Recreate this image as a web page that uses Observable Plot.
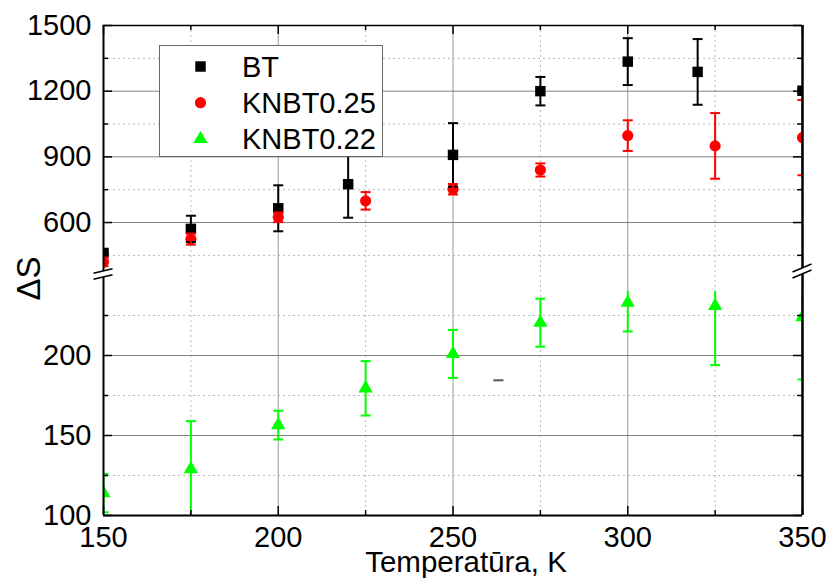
<!DOCTYPE html>
<html><head><meta charset="utf-8">
<script src="https://cdn.jsdelivr.net/npm/d3@7"></script>
<script src="https://cdn.jsdelivr.net/npm/@observablehq/plot@0.6"></script>
<style>body{margin:0;background:#fff;font-family:"Liberation Sans",Arial,sans-serif}</style>
</head><body><div id="wrap" style="position:relative;width:832px;height:579px"></div>
<script>
// ---- data ----
const seriesNames = ["BT", "KNBT0.25", "KNBT0.22"];
const btTemp   = [150, 175, 200, 220, 250, 275, 300, 320, 350];
const btVal    = [461, 571, 665, 775, 909, 1200, 1335, 1288, 1202];
const btErr    = [5, 60, 105, 153, 145, 65, 107, 150, 10];
const redTemp  = [150, 175, 200, 225, 250, 275, 300, 325, 350];
const redVal   = [420, 524, 624, 699, 752, 840, 997, 950, 988];
const redErr   = [20, 25, 22, 40, 24, 30, 70, 150, 172];
const grnTemp  = [150, 175, 200, 225, 250, 275, 300, 325, 350];
const grnVal   = [114, 129, 156.5, 179.5, 201, 220.5, 233, 231, 224];
const grnErr   = [12, 30, 9, 17, 15, 15, 18, 37, 39];
const strayTemp = [263];
const strayVal  = [184.5];

const xLabelTicks = [150, 200, 250, 300, 350];
const xMinorTicks = [175, 225, 275, 325];
const xMajorGrid = [200, 250, 300];
const yLabelTicks = [100, 150, 200, 600, 900, 1200, 1500];
const yMinorTicks = [125, 175, 225, 450, 750, 1050, 1350];
const yMajorGrid = [150, 200, 600, 900, 1200];
const lowSeg = [100, 240];
const highSeg = [390, 1500];

// ---- layout ----
const W = 832, H = 579, mL = 103, mR = 30, mT = 25, mB = 64;
const fW = W - mL - mR, fH = H - mT - mB;
const font = "Liberation Sans, Arial, sans-serif";

function segOf(v) { return v <= lowSeg[1] ? lowSeg : highSeg; }
function rows(temps, vals, errs) {
  return temps.map((t, i) => {
    const seg = segOf(vals[i]);
    const lo = vals[i] - errs[i], hi = vals[i] + errs[i];
    return {
      t, v: vals[i],
      lo: Math.max(seg[0], lo), hi: Math.min(seg[1], hi),
      loCap: lo >= seg[0], hiCap: hi <= seg[1]
    };
  });
}
const series = [
  {name: seriesNames[0], data: rows(btTemp, btVal, btErr), color: "#000000", symbol: "square", r: 5.9},
  {name: seriesNames[1], data: rows(redTemp, redVal, redErr), color: "#ff0000", symbol: "circle", r: 5.6},
  {name: seriesNames[2], data: rows(grnTemp, grnVal, grnErr), color: "#00ff00", symbol: "triangle", r: 5.3}
];

const capSymbol = {
  draw(context, size) {
    const w = Math.sqrt(size / Math.PI);
    context.moveTo(-w, 0);
    context.lineTo(w, 0);
  }
};

function breakMarks(index, scales) {
  const sx = scales.x, sy = scales.y;
  const g = d3.create("svg:g");
  const gapTop = sy(highSeg[0]);
  const spots = [
    {x: sx(150), yc: gapTop + 6, s: 2.2},
    {x: sx(350), yc: gapTop + 3, s: 4}
  ];
  for (const p of spots) {
    const a = [p.x - 9.5, p.yc - 3 + p.s], b = [p.x + 9.5, p.yc - 3 - p.s];
    const c = [p.x + 9.5, p.yc + 3 - p.s], d = [p.x - 9.5, p.yc + 3 + p.s];
    g.append("path").attr("d", `M${a}L${b}L${c}L${d}Z`).attr("fill", "white");
    g.append("line").attr("x1", a[0]).attr("y1", a[1]).attr("x2", b[0]).attr("y2", b[1])
      .attr("stroke", "black").attr("stroke-width", 1.6);
    g.append("line").attr("x1", d[0]).attr("y1", d[1]).attr("x2", c[0]).attr("y2", c[1])
      .attr("stroke", "black").attr("stroke-width", 1.6);
  }
  return g.node();
}

const marks = [
  // grid
  Plot.ruleX(xMinorTicks, {stroke: "#b8b8b8", strokeDasharray: "2,3", strokeWidth: 1}),
  Plot.ruleY(yMinorTicks, {stroke: "#b8b8b8", strokeDasharray: "2,3", strokeWidth: 1}),
  Plot.ruleX(xMajorGrid, {stroke: "#999999", strokeWidth: 1}),
  Plot.ruleY(yMajorGrid, {stroke: "#808080", strokeWidth: 1}),
];
// markers
for (const s of series) {
  marks.push(Plot.dot(s.data, {x: "t", y: "v", symbol: s.symbol, r: s.r, fill: s.color, stroke: "none", clip: true}));
}
// error bars
for (const s of series) {
  marks.push(Plot.ruleX(s.data, {x: "t", y1: "lo", y2: "hi", stroke: s.color, strokeWidth: 2, clip: true}));
  marks.push(Plot.dot(s.data.filter(d => d.hiCap), {x: "t", y: "hi", symbol: capSymbol, r: 5, fill: "none", stroke: s.color, strokeWidth: 2, clip: true}));
  marks.push(Plot.dot(s.data.filter(d => d.loCap), {x: "t", y: "lo", symbol: capSymbol, r: 5, fill: "none", stroke: s.color, strokeWidth: 2, clip: true}));
}
marks.push(Plot.dot(strayTemp.map((t, i) => ({t, v: strayVal[i]})), {x: "t", y: "v", symbol: capSymbol, r: 5, fill: "none", stroke: "#555", strokeWidth: 2}));
// inward ticks
const majL = 9, minL = 5;
marks.push(
  Plot.ruleX(xLabelTicks, {insetTop: fH - majL, stroke: "black", strokeWidth: 1.5}),
  Plot.ruleX(xMinorTicks, {insetTop: fH - minL, stroke: "black", strokeWidth: 1.5}),
  Plot.ruleX(xLabelTicks, {insetBottom: fH - majL, stroke: "black", strokeWidth: 1.5}),
  Plot.ruleX(xMinorTicks, {insetBottom: fH - minL, stroke: "black", strokeWidth: 1.5}),
  Plot.ruleY(yLabelTicks, {insetRight: fW - majL, stroke: "black", strokeWidth: 1.5}),
  Plot.ruleY(yMinorTicks, {insetRight: fW - minL, stroke: "black", strokeWidth: 1.5}),
  Plot.ruleY(yLabelTicks, {insetLeft: fW - majL, stroke: "black", strokeWidth: 1.5}),
  Plot.ruleY(yMinorTicks, {insetLeft: fW - minL, stroke: "black", strokeWidth: 1.5}),
  // frame
  Plot.ruleY([highSeg[1]], {stroke: "black", strokeWidth: 1.5}),
  Plot.ruleY([lowSeg[0]], {stroke: "black", strokeWidth: 2}),
  Plot.ruleX([150], {stroke: "black", strokeWidth: 2}),
  Plot.ruleX([350], {stroke: "black", strokeWidth: 2.5}),
  breakMarks,
  // axes labels
  Plot.axisX(xLabelTicks, {tickSize: 0, tickPadding: 11, label: null, fontSize: 29, tickFormat: d => String(d)}),
  Plot.axisY(yLabelTicks, {tickSize: 0, tickPadding: 12, label: null, fontSize: 29, tickFormat: d => String(d)}),
  Plot.text(["Temperatūra, K"], {text: d => d, frameAnchor: "bottom", dx: 13, dy: 56.5, fontSize: 29.5}),
  Plot.text(["ΔS"], {text: d => d, frameAnchor: "left", rotate: -90, dx: -74, dy: 30, fontSize: 33})
);

const chart = Plot.plot({
  width: W, height: H,
  marginLeft: mL, marginRight: mR, marginTop: mT, marginBottom: mB,
  x: {domain: [150, 350]},
  y: {type: "linear", domain: [lowSeg[0], lowSeg[1], highSeg[0], highSeg[1]], range: [515, 291, 268, 25]},
  style: {fontFamily: font, fontSize: "29px", color: "black", background: "white", overflow: "visible"},
  marks
});
const wrap = document.getElementById("wrap");
wrap.appendChild(chart);

// legend
const legend = document.createElement("div");
legend.style.cssText = "position:absolute;left:159px;top:45px;width:224px;height:112px;box-sizing:border-box;border:1.5px solid #666;background:#fff;";
const lsvg = d3.create("svg").attr("width", 222).attr("height", 110).style("display", "block");
series.forEach((s, i) => {
  const y = 20.5 + i * 36.2;
  lsvg.append("path")
    .attr("transform", `translate(40.5,${y})`)
    .attr("d", d3.symbol(s.symbol === "square" ? d3.symbolSquare : s.symbol === "circle" ? d3.symbolCircle : d3.symbolTriangle, Math.PI * s.r * s.r)())
    .attr("fill", s.color);
  lsvg.append("text").attr("x", 82).attr("y", y).attr("dy", "0.36em")
    .attr("font-family", font).attr("font-size", 29).attr("fill", "black").text(s.name);
});
legend.appendChild(lsvg.node());
wrap.appendChild(legend);
</script></body></html>
